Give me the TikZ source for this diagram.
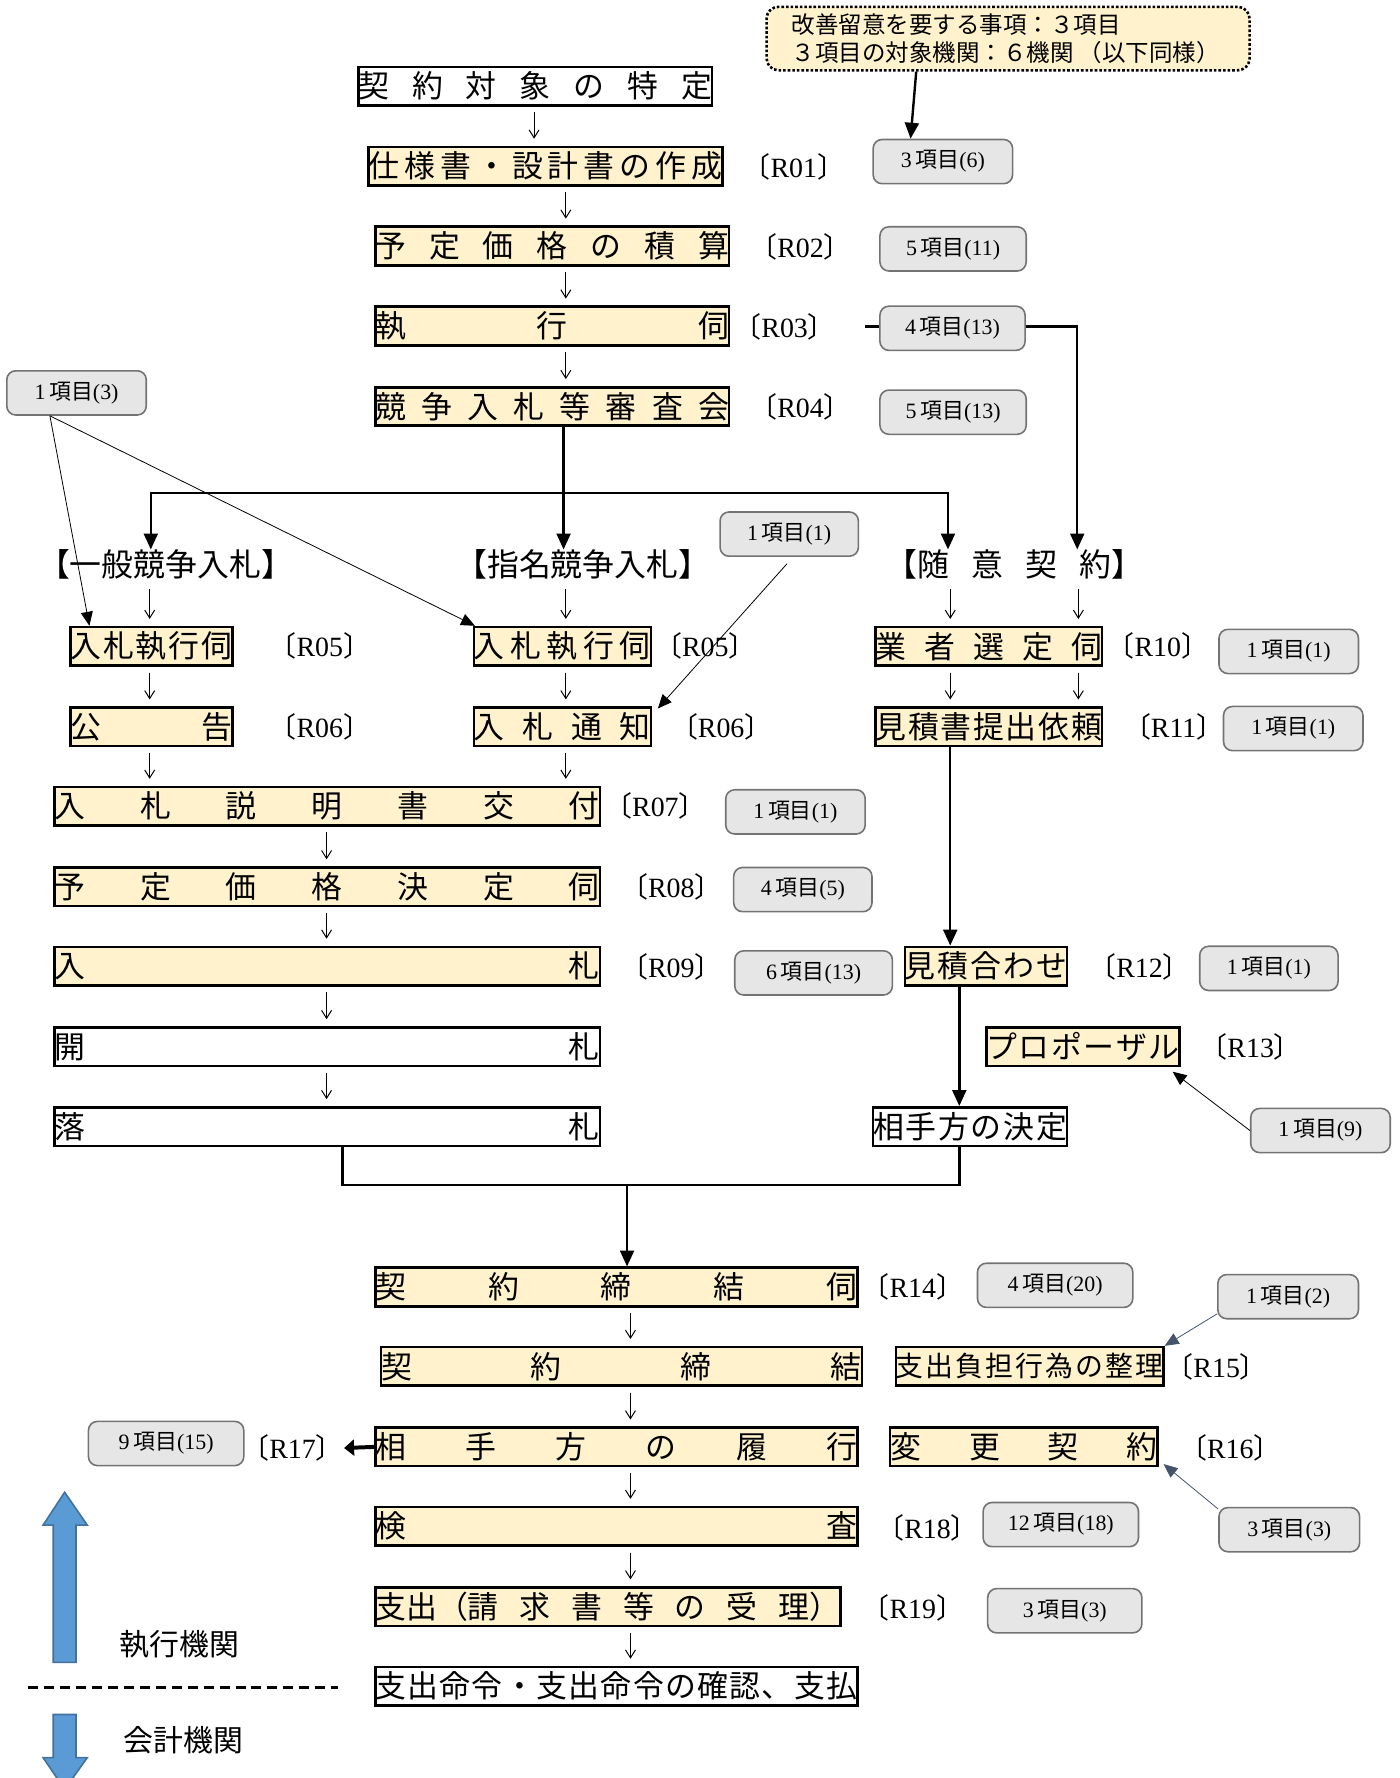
\documentclass[tikz,border=0pt]{standalone}
\usepackage{fontspec}
\setmainfont{Liberation Serif}
\newfontfamily\jp{Noto Sans CJK JP}
\usetikzlibrary{arrows.meta,calc}
\newdimen\pxu \pxu=0.02cm
% spread the characters of a label over the whole box
\def\sprd#1#2\end{#1\ifx\relax#2\relax\else\hfill\sprd#2\end\fi}
\newcommand\dist[2]{\makebox[#1\pxu][s]{\sprd#2\end}}
\newcommand\rlab[1]{{\jp〔}R#1{\jp〕}}
\definecolor{boxyellow}{HTML}{FFF2CC}
\definecolor{cntgray}{HTML}{E6E6E6}
\definecolor{slate}{HTML}{44546A}
\definecolor{legblue}{HTML}{5B9BD5}
\definecolor{legedge}{HTML}{41719C}
\tikzset{
  stepbox/.style={
    draw,
    line width=1.3pt,
    fill=boxyellow,
    inner sep=0pt,
    minimum height=34*\pxu,
    font=\jp\fontsize{15.5}{18}\selectfont
  },
  plainbox/.style={stepbox, fill=white},
  head/.style={inner sep=0pt, font=\jp\fontsize{16}{18}\selectfont},
  rl/.style={inner sep=0pt, font=\fontsize{14}{16}\selectfont},
  cnt/.style={
    draw=black!55,
    line width=0.8pt,
    fill=cntgray,
    rounded corners=4.5pt,
    inner sep=0pt,
    minimum height=39*\pxu,
    font=\fontsize{11}{13}\selectfont
  },
  down/.style={line width=0.5pt, -{Straight Barb[length=4pt,width=5pt]},
    shorten <=0.1cm, shorten >=0.12cm},
  flow/.style={line width=1.2pt, -{Triangle[length=8pt,width=7pt]}},
  ann/.style={line width=0.4pt, -{Triangle[length=7pt,width=6pt]}},
  annb/.style={ann, draw=slate}
}
\begin{document}
\begin{tikzpicture}[x=0.02cm,y=-0.02cm]
\useasboundingbox (0,0) rectangle (1234,1568);

\node[draw, densely dotted, line width=1.3pt, rounded corners=6pt, fill=boxyellow,
  minimum width=426*\pxu, minimum height=56*\pxu, inner sep=0pt,
  font=\jp\fontsize{11.8}{14.2}\selectfont] (note) at (889,34)
  {\parbox{404\pxu}{\hspace*{11\pxu}改善留意を要する事項：３項目\\\hspace*{11\pxu}３項目の対象機関：６機関 （以下同様）}};

% main flow
\node[plainbox] (tgt) at (472,76) {\dist{312}{契約対象の特定}};
\node[stepbox] (spec) at (481,146.5) {\dist{312}{仕様書・設計書の作成}};
\node[stepbox] (est) at (487,217) {\dist{312}{予定価格の積算}};
\node[stepbox] (exe) at (487,287.5) {\dist{312}{執行伺}};
\node[stepbox] (cmt) at (487,358.5) {\dist{312}{競争入札等審査会}};

\node[head] (gen) at (146,498) {【一般競争入札】};
\node[head] (nom) at (514,498) {【指名競争入札】};
\node[head] (neg) at (894.5,498) {\makebox[227\pxu][s]{【随\hfill 意\hfill 契\hfill 約】}};

\node[stepbox] (gexe) at (133.5,570) {\dist{143}{入札執行伺}};
\node[stepbox] (nexe) at (496,570) {\dist{156}{入札執行伺}};
\node[stepbox] (sel) at (872,570) {\dist{200}{業者選定伺}};
\node[stepbox] (ann) at (133.5,641) {\dist{143}{公告}};
\node[stepbox] (notif) at (496,641) {\dist{156}{入札通知}};
\node[stepbox] (req) at (872,641) {\dist{200}{見積書提出依頼}};
\node[stepbox] (expl) at (288.5,711) {\dist{481}{入札説明書交付}};
\node[stepbox] (fix) at (288.5,782) {\dist{481}{予定価格決定伺}};
\node[stepbox] (bid) at (288.5,852) {\dist{481}{入札}};
\node[plainbox] (opn) at (288.5,923) {\dist{481}{開札}};
\node[plainbox] (award) at (288.5,993.5) {\dist{481}{落札}};
\node[stepbox] (quote) at (869.5,852) {\dist{143}{見積合わせ}};
\node[stepbox] (prop) at (955,923) {\dist{170}{プロポーザル}};
\node[plainbox] (party) at (855.5,993.5) {\dist{171}{相手方の決定}};

\node[stepbox] (cask) at (543.5,1135) {\dist{425}{契約締結伺}};
\node[stepbox] (conc) at (548,1205) {\dist{424}{契約締結}};
\node[stepbox, font=\jp\fontsize{14}{16}\selectfont] (oblg) at (908,1205) {\dist{236}{支出負担行為の整理}};
\node[stepbox] (perf) at (543.5,1276) {\dist{425}{相手方の履行}};
\node[stepbox] (chg) at (903,1276) {\dist{236}{変更契約}};
\node[stepbox] (insp) at (543.5,1346) {\dist{425}{検査}};
\node[stepbox] (pay) at (536,1417) {\makebox[410\pxu][s]{支出（請\hfill 求\hfill 書\hfill 等\hfill の\hfill 受\hfill 理）}};
\node[plainbox] (ord) at (543.5,1487) {\dist{425}{支出命令・支出命令の確認、支払}};

% R numbers
\foreach \nm/\lab/\x/\y in {r01/01/700/147, r02/02/706/218, r03/03/692/288, r04/04/706/359,
    r05a/05/282/570, r05b/05/622/570, r06a/06/282/641, r06b/06/636/641, r07/07/578/711,
    r08/08/592/782, r09/09/592/853, r10/10/1021/570, r11/11/1035/641, r12/12/1005/853,
    r13/13/1103/923, r14/14/805/1135, r15/15/1073/1205, r16/16/1085/1277, r17/17/258/1277,
    r18/18/818/1347, r19/19/805/1418}
  \node[rl] (\nm) at (\x,\y) {\rlab{\lab}};

% counts
\foreach \nm/\x/\y/\w/\n/\k in {c01/831.5/142.5/123/3/6, c02/840.5/219.5/129/5/11,
    c03/840/289.5/128/4/13, c04/840.5/363.5/129/5/13, cgen/67.5/346.5/123/1/3,
    cnom/696/471/122/1/1, c10/1136.5/574.5/123/1/1, c11/1140.5/642.5/123/1/1,
    c07/701.5/716/123/1/1, c08/708/784.5/122/4/5, c09/717.5/858/139/6/13,
    c12/1119/854/122/1/1, c13/1164.5/997/123/1/9, c14/930.5/1133.5/137/4/20,
    c15/1136/1143.5/124/1/2, c17/146.5/1273/137/9/15, c18/935.5/1344.5/137/12/18,
    c16/1137/1349/124/3/3, c19/939/1420.5/136/3/3}
  \node[cnt, minimum width=\w*\pxu] (\nm) at (\x,\y) {\n\,{\jp 項目}(\k)};

\coordinate (cA) at (471,0);
\coordinate (cB) at (499,0);
\coordinate (cG) at (132,0);
\coordinate (cL) at (838,0);
\coordinate (cR) at (951,0);
\coordinate (cE) at (288,0);
\coordinate (cC) at (556,0);
\coordinate (cK) at (497,0);
\coordinate (split) at (497,435);
\coordinate (gL) at (133,0);
\coordinate (nR) at (836,0);
\coordinate (nX) at (950,0);
\coordinate (qX) at (846,0);
\coordinate (aX) at (302,0);
\coordinate (merge) at (553,1045);
\coordinate (r03e) at (763,288);

\foreach \src/\dst/\col in {tgt/spec/cA, spec/est/cB, est/exe/cB, exe/cmt/cB,
    gexe/ann/cG, nexe/notif/cB, sel/req/cL, sel/req/cR, ann/expl/cG, notif/expl/cB,
    expl/fix/cE, fix/bid/cE, bid/opn/cE, opn/award/cE,
    cask/conc/cC, conc/perf/cC, perf/insp/cC, insp/pay/cC, pay/ord/cC}
  \draw[down] (\src.south -| \col) -- (\dst.north -| \col);
\foreach \src/\dst/\col in {gen/gexe/cG, nom/nexe/cB, neg/sel/cL, neg/sel/cR}
  \draw[down, shorten <=0.16cm] (\src.south -| \col) -- (\dst.north -| \col);

\draw[flow] (cmt.south -| cK) -- (nom.north -| cK);
\draw[flow] (split) -| (gen.north -| gL);
\draw[flow] (split) -| (neg.north -| nR);
\draw[line width=1.2pt] (r03e) -- (c03.west |- r03e);
\draw[flow] (c03.east |- r03e) -| (neg.north -| nX);
\draw[flow] (req.south -| cL) -- (quote.north -| cL);
\draw[flow] (quote.south -| qX) -- (party.north -| qX);
\draw[line width=1.2pt] (award.south -| aX) |- (merge) -| (party.south -| qX);
\draw[flow] (merge) -- (cask.north -| merge);
\draw[line width=2pt, -{Triangle[length=5pt,width=8pt]}] (perf.west) -- (r17.east);
\draw[flow] ([shift={(-81,0)}]note.south) -- ([shift={(-28.5,0)}]c01.north);

\draw[ann] ([shift={(-23.5,0)}]cgen.south) -- ([shift={(18,0)}]gexe.north west);
\draw[ann] ([shift={(-23.5,0)}]cgen.south) -- ([shift={(2,0)}]nexe.north west);
\draw[ann] ([shift={(-2,6)}]cnom.south) -- ([shift={(5,2)}]notif.north east);
\draw[ann] (c13.west) -- ([shift={(-7,4)}]prop.south east);
\draw[annb] ([shift={(0,-5)}]c15.south west) -- (oblg.north east);
\draw[annb] ([shift={(0,2)}]c16.north west) -- ([shift={(4,-3)}]chg.south east);

% legend
\draw[fill=legblue, draw=legedge, line width=0.8pt] (47,1466) -- (47,1345) -- (38,1345)
  -- (57,1316) -- (77,1345) -- (67,1345) -- (67,1466) -- cycle;
\draw[fill=legblue, draw=legedge, line width=0.8pt] (47,1512) -- (47,1550) -- (38,1550)
  -- (57,1578) -- (77,1550) -- (67,1550) -- (67,1512) -- cycle;
\draw[line width=1.3pt, dash pattern=on 5pt off 3pt] (25,1488) -- (298,1488);
\node[font=\jp\fontsize{15}{18}\selectfont] (exec) at (158,1450) {執行機関};
\node[font=\jp\fontsize{15}{18}\selectfont] (acct) at (162,1535) {会計機関};
\end{tikzpicture}
\end{document}
